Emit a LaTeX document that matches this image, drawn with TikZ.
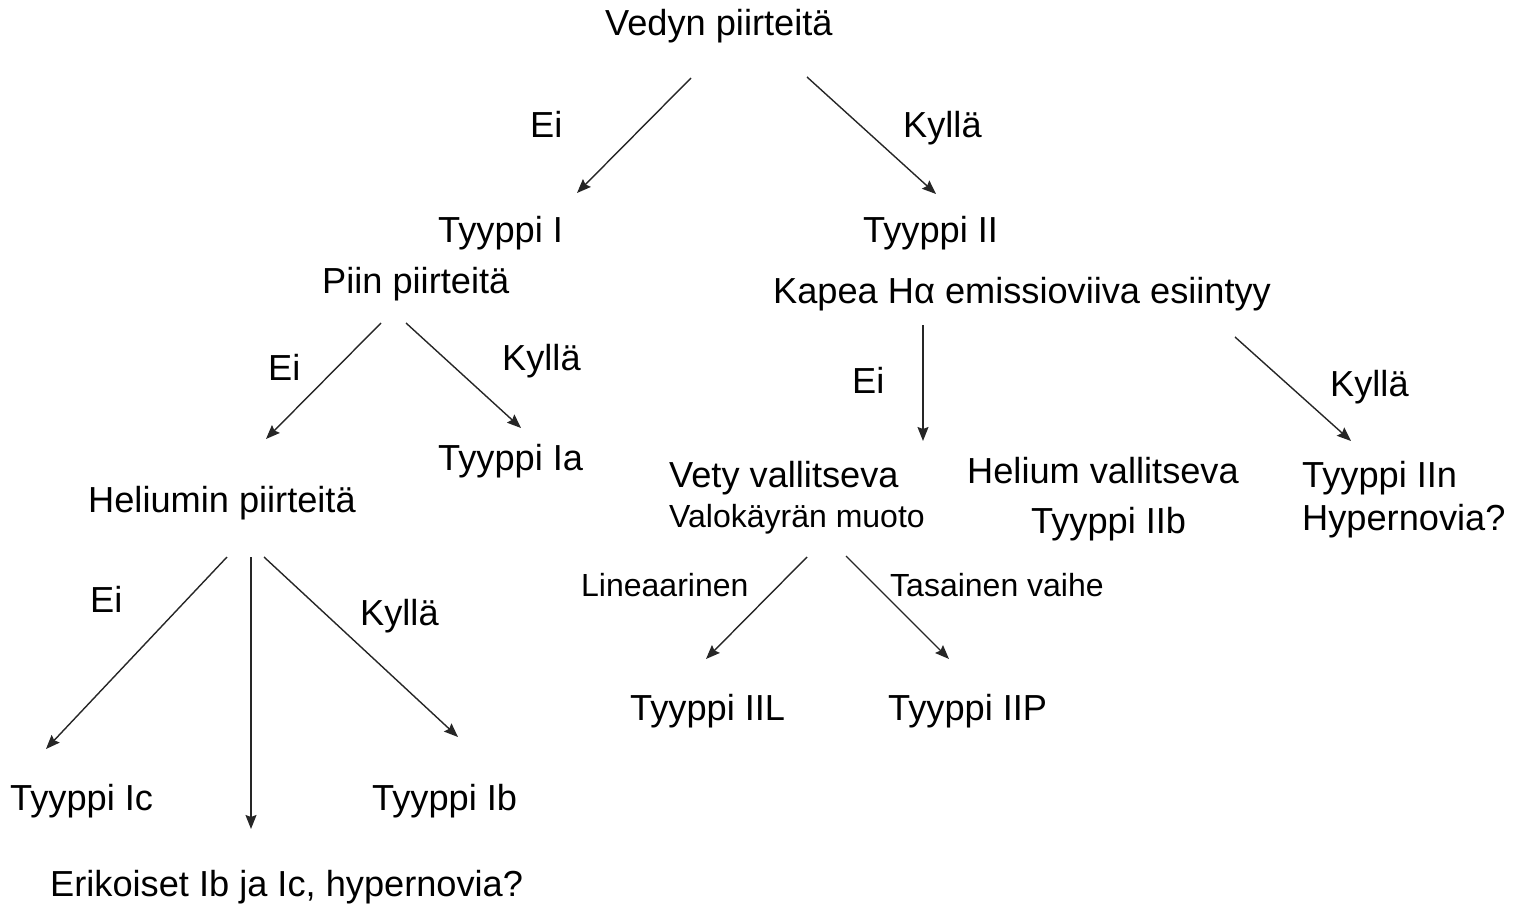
\documentclass[tikz,border=0pt]{standalone}
\usepackage{fontspec}
\setmainfont{Liberation Sans}
\usetikzlibrary{arrows.meta}
\begin{document}
\begin{tikzpicture}[x=1pt,y=-1pt,
  lbl/.style={anchor=base west,inner sep=0pt,font=\fontsize{36.2}{42}\selectfont},
  sml/.style={anchor=base west,inner sep=0pt,font=\fontsize{32}{38}\selectfont},
  arr/.style={draw=black!85,line width=1.4pt,-{Stealth[length=14pt,width=11pt,inset=2pt]}}]
\useasboundingbox (0,0) rectangle (1524,904);
% texts
\node[lbl] (ved) at (605,36) {Vedyn piirteitä};
\node[lbl] (ei1) at (530,138) {Ei};
\node[lbl] (ky1) at (903,138) {Kyllä};
\node[lbl] (t1) at (438,243) {Tyyppi I};
\node[lbl] (t2) at (863,243) {Tyyppi II};
\node[lbl] (piin) at (322,294) {Piin piirteitä};
\node[lbl] (kap) at (773,303) {Kapea Hα emissioviiva esiintyy};
\node[lbl] (ei2) at (268,380) {Ei};
\node[lbl] (ky2) at (502,370) {Kyllä};
\node[lbl] (ei3) at (852,393) {Ei};
\node[lbl] (ky3) at (1330,396) {Kyllä};
\node[lbl] (tia) at (438,470) {Tyyppi Ia};
\node[lbl] (hel) at (88,512) {Heliumin piirteitä};
\node[lbl] (vety) at (669,487) {Vety vallitseva};
\node[sml] (valo) at (669,527) {Valokäyrän muoto};
\node[lbl] (helv) at (967,483) {Helium vallitseva};
\node[lbl] (tiib) at (1031,533) {Tyyppi IIb};
\node[lbl] (tiin) at (1302,487) {Tyyppi IIn};
\node[lbl] (hyp) at (1302,530) {Hypernovia?};
\node[sml] (lin) at (581,596) {Lineaarinen};
\node[sml] (tas) at (890,596) {Tasainen vaihe};
\node[lbl] (ei4) at (90,612) {Ei};
\node[lbl] (ky4) at (360,625) {Kyllä};
\node[lbl] (tiil) at (630,720) {Tyyppi IIL};
\node[lbl] (tiip) at (888,720) {Tyyppi IIP};
\node[lbl] (tic) at (10,810) {Tyyppi Ic};
\node[lbl] (tib) at (372,810) {Tyyppi Ib};
\node[lbl] (eri) at (50,896) {Erikoiset Ib ja Ic, hypernovia?};
% connector ends
\coordinate (a1s) at (691,78);   \coordinate (a1e) at (577,193);
\coordinate (a2s) at (807,77);   \coordinate (a2e) at (936,194);
\coordinate (a3s) at (381,323);  \coordinate (a3e) at (266,439);
\coordinate (a4s) at (406,323);  \coordinate (a4e) at (521,428);
\coordinate (a5s) at (923,325);  \coordinate (a5e) at (923,441);
\coordinate (a6s) at (1235,337); \coordinate (a6e) at (1351,441);
\coordinate (a7s) at (807,557);  \coordinate (a7e) at (706,659);
\coordinate (a8s) at (846,556);  \coordinate (a8e) at (949,659);
\coordinate (a9s) at (227,557);  \coordinate (a9e) at (46,749);
\coordinate (a10s) at (251,557); \coordinate (a10e) at (251,829);
\coordinate (a11s) at (264,557); \coordinate (a11e) at (458,737);
% connectors
\draw[arr] (a1s) -- (a1e);
\draw[arr] (a2s) -- (a2e);
\draw[arr] (a3s) -- (a3e);
\draw[arr] (a4s) -- (a4e);
\draw[arr] (a5s) -- (a5e);
\draw[arr] (a6s) -- (a6e);
\draw[arr] (a7s) -- (a7e);
\draw[arr] (a8s) -- (a8e);
\draw[arr] (a9s) -- (a9e);
\draw[arr] (a10s) -- (a10e);
\draw[arr] (a11s) -- (a11e);
\end{tikzpicture}
\end{document}
